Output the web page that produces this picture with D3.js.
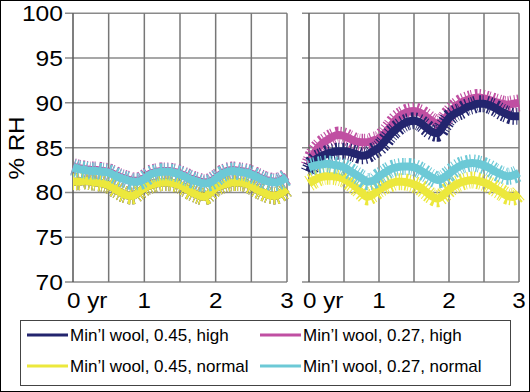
<!DOCTYPE html>
<html><head><meta charset="utf-8">
<script src="https://cdn.jsdelivr.net/npm/d3@7"></script>
<style>body{margin:0;background:#fff}svg{display:block}text{font-family:"Liberation Sans",Arial,sans-serif}</style>
</head><body><svg id="c" width="530" height="392"></svg>
<script>
// time in years, monthly samples
const months = d3.range(37).map(k => k / 12);
const yTicks = [70, 75, 80, 85, 90, 95, 100];
const xTickLabels = ["0 yr", "1", "2", "3"];
const seriesNames = ["Min\u2019l wool, 0.45, high", "Min\u2019l wool, 0.27, high", "Min\u2019l wool, 0.45, normal", "Min\u2019l wool, 0.27, normal"];
const seriesColors = ["#23256e", "#c04fa2", "#ece83c", "#6cc9d6"];

// Left panel
const leftHigh45 = [81.2,81.2,81.3,81.2,81.1,81.0,80.8,80.4,80.0,79.7,79.6,80.0,80.5,80.8,81.0,81.1,81.1,81.0,80.8,80.4,80.0,79.7,79.5,79.9,80.5,80.8,81.0,81.1,81.1,81.0,80.7,80.3,80.0,79.7,79.6,79.9,80.4];
const leftHigh27 = [82.9,82.7,82.6,82.5,82.5,82.4,82.3,82.0,81.7,81.5,81.3,81.3,81.6,82.1,82.3,82.4,82.4,82.3,82.1,81.8,81.5,81.3,81.1,81.2,81.6,82.1,82.4,82.5,82.4,82.3,82.1,81.8,81.5,81.3,81.2,81.4,81.8];
const leftNorm45 = [81.2,81.2,81.3,81.2,81.1,81.0,80.8,80.4,80.0,79.7,79.6,80.0,80.5,80.8,81.0,81.1,81.1,81.0,80.8,80.4,80.0,79.7,79.5,79.9,80.5,80.8,81.0,81.1,81.1,81.0,80.7,80.3,80.0,79.7,79.6,79.9,80.4];
const leftNorm27 = [82.8,82.6,82.5,82.4,82.4,82.3,82.2,81.9,81.6,81.4,81.2,81.2,81.5,82.0,82.2,82.3,82.3,82.2,82.0,81.7,81.4,81.2,81.0,81.1,81.5,82.0,82.3,82.4,82.3,82.2,82.0,81.7,81.4,81.2,81.1,81.3,81.7];

// Right panel
const rightHigh45 = [82.3,83.6,84.0,84.3,84.5,84.6,84.6,84.5,84.3,84.1,84.2,84.6,85.0,85.7,86.5,87.1,87.6,87.9,88.0,87.8,87.3,86.8,86.6,87.4,88.3,88.8,89.1,89.5,89.7,89.9,89.9,89.7,89.4,89.0,88.7,88.5,88.5];
const rightHigh27 = [83.0,84.5,85.3,85.8,86.2,86.4,86.3,86.0,85.7,85.6,85.6,85.8,86.0,86.6,87.4,88.2,88.7,89.0,89.1,88.9,88.5,88.0,87.7,88.0,88.8,89.5,90.0,90.3,90.5,90.6,90.5,90.3,90.1,89.9,89.8,89.9,90.0];
const rightNorm45 = [81.0,81.4,81.7,81.8,81.8,81.7,81.5,81.1,80.6,80.0,79.5,79.8,80.3,80.7,81.0,81.2,81.2,81.1,80.9,80.6,80.1,79.6,79.3,79.7,80.3,80.8,81.1,81.3,81.4,81.3,81.1,80.8,80.4,80.0,79.6,79.5,79.9];
const rightNorm27 = [82.8,83.0,83.1,83.2,83.1,83.0,82.8,82.4,82.0,81.6,81.2,81.3,81.8,82.2,82.6,82.8,82.9,82.9,82.8,82.5,82.1,81.7,81.4,81.6,82.1,82.6,83.0,83.2,83.3,83.2,83.0,82.7,82.3,82.0,81.8,81.9,82.2];

const svg = d3.select("#c");
svg.append("rect").attr("x",0.5).attr("y",0.5).attr("width",529).attr("height",391).attr("fill","#fff").attr("stroke","#000");

const y = d3.scaleLinear().domain([70,100]).range([282,13.3]);
const panels = [
  {x0:73, x1:287, stub:65, data:[leftHigh27,leftHigh45,leftNorm45,leftNorm27]},
  {x0:309, x1:519, stub:302, data:[rightHigh27,rightHigh45,rightNorm45,rightNorm27]}
];
const drawColors = [seriesColors[1], seriesColors[0], seriesColors[2], seriesColors[3]];

panels.forEach((p, pi) => {
  const x = d3.scaleLinear().domain([0,3]).range([p.x0,p.x1]);
  const g = svg.append("g");
  g.selectAll(".h").data(yTicks).join("line")
    .attr("x1",p.stub).attr("x2",p.x1).attr("y1",d=>y(d)).attr("y2",d=>y(d))
    .attr("stroke","#8a8a8a").attr("stroke-width",1.5);
  g.selectAll(".v").data(d3.range(0,3.01,0.5)).join("line")
    .attr("x1",d=>x(d)).attr("x2",d=>x(d)).attr("y1",y(100)).attr("y2",y(70))
    .attr("stroke",(d)=> d===0 ? "#555" : "#777").attr("stroke-width",1.5);
  const line = d3.line().x((d,i)=>x(months[i])).y(d=>y(d)).curve(d3.curveMonotoneX);
  p.data.forEach((s, si) => {
    const d = line(s);
    // ragged "noise" fringe
    g.append("path").attr("d", d).attr("fill","none")
      .attr("stroke", drawColors[si]).attr("stroke-width", 17)
      .attr("stroke-dasharray","1 2 1.5 1 1 3 2 1.5 1 2.5");
    g.append("path").attr("d", d).attr("fill","none")
      .attr("stroke", drawColors[si]).attr("stroke-width", 8).attr("stroke-linejoin","round");
  });
  [0,1,2,3].forEach((t,i)=>{
    const tx = x(t) - (i===0 ? 6 : 0);
    svg.append("text").attr("transform",`translate(${tx},308) scale(1.1,1)`)
      .attr("text-anchor", i===0 ? "start" : "middle")
      .attr("font-size",22).attr("fill","#000").text(xTickLabels[i]);
  });
});

yTicks.forEach(v=>{
  svg.append("text").attr("transform",`translate(63,${y(v)+8}) scale(1.12,1)`)
    .attr("text-anchor","end").attr("font-size",22).attr("fill","#000").text(v);
});
svg.append("text").attr("transform","translate(24,148) rotate(-90) scale(1.1,1)")
  .attr("text-anchor","middle").attr("font-size",22).attr("fill","#000").text("% RH");

svg.append("rect").attr("x",20.5).attr("y",320.5).attr("width",490).attr("height",65)
  .attr("fill","#fff").attr("stroke","#444").attr("stroke-width",1);
const legPos = [[27,335],[260,335],[27,366],[260,366]];
seriesNames.forEach((n,i)=>{
  const [lx,ly] = legPos[i];
  svg.append("line").attr("x1",lx).attr("x2",lx+41).attr("y1",ly).attr("y2",ly)
    .attr("stroke",seriesColors[i]).attr("stroke-width",3);
  svg.append("text").attr("x",lx+43).attr("y",ly+6).attr("font-size",17).attr("fill","#000").text(n);
});
</script></body></html>
